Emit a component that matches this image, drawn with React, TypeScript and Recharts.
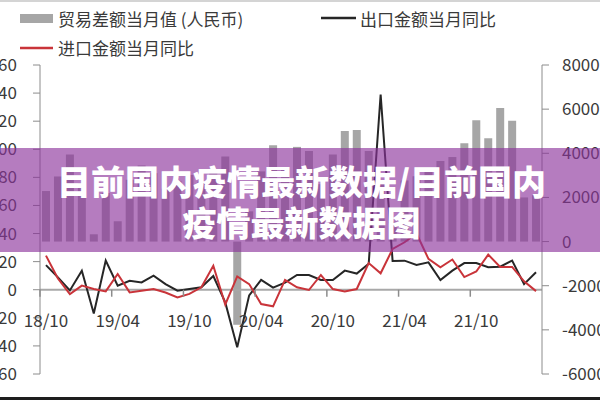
import { ComposedChart, Bar, Line, XAxis, YAxis, ReferenceLine } from "recharts";

const months = [
  "18/10", "18/11", "18/12", "19/01", "19/02", "19/03", "19/04", "19/05", "19/06", "19/07", "19/08", "19/09",
  "19/10", "19/11", "19/12", "20/01", "20/02", "20/03", "20/04", "20/05", "20/06", "20/07", "20/08", "20/09",
  "20/10", "20/11", "20/12", "21/01", "21/02", "21/03", "21/04", "21/05", "21/06", "21/07", "21/08", "21/09",
  "21/10", "21/11", "21/12", "22/01", "22/02", "22/03",
];

// 贸易差额当月值（人民币，亿元）
const balance = [
  2290, 2950, 3950, 2650, 330, 2200, 920, 2800, 3450, 3100, 2400, 2750,
  3020, 2710, 3290, 3860, -3770, 1370, 3180, 4360, 3300, 4290, 4100, 2600,
  3950, 5010, 5060, 4100, 2600, 900, 2770, 2960, 3330, 3650, 3830, 4450,
  5500, 4680, 6050, 5470, 2000, 2100,
];

// 出口金额当月同比 (%)
const exportYoy = [
  17.5, 8.8, -0.5, 13.6, -16.9, 20.7, 2.9, 6.4, 5.2, 10, 4, -0.7,
  0.5, 1.7, 9.8, -9, -41, -4, 7, 1.5, 5, 10.5, 10.5, 6.9,
  6.9, 13.6, 11.5, 18.5, 139, 20.5, 20.7, 17.6, 19.5, 6.9, 13.6, 19,
  19, 16, 16.4, 20.7, 4, 12.4,
];

// 进口金额当月同比 (%)
const importYoy = [
  24.3, 8, -3.1, 2.9, 0.5, -1.2, 11.2, -1.9, -0.7, 0.5, -2, -5.5,
  -3, 1.7, 17.1, -10.5, 9.5, 4, -10.2, -11.8, 7, 1.7, -0.2, 10.5,
  0.5, -1.2, 0.5, 19, 11.7, 29, 33.8, 40, 22, 16, 21.5, 9,
  13, 25, 16.2, 16.2, 6, -1,
];

const leftTicks = [-60, -40, -20, 0, 20, 40, 60, 80, 100, 120, 140, 160];
const rightTicks = [-6000, -4000, -2000, 0, 2000, 4000, 6000, 8000];

const data = months.map((m, i) => ({
  month: m,
  balance: balance[i],
  exp: exportYoy[i],
  imp: importYoy[i],
}));

const W = 600;
const H = 400;
const TOP = 65;
const X_AXIS_H = 26;
const LEFT_W = 40;
const RIGHT_W = 58;
const PLOT_H = H - TOP - X_AXIS_H;
const LEFT_MIN = -60;
const LEFT_MAX = 160;
// the category axis sits on the zero of the left axis
const zeroY = TOP + (PLOT_H * (LEFT_MAX - 0)) / (LEFT_MAX - LEFT_MIN);
const bandW = (W - LEFT_W - RIGHT_W) / months.length;

const FONT = '"Noto Sans CJK SC", "Noto Sans", sans-serif';
const AXIS = "#8c8c8c";

function MonthTick(props: any) {
  const { x, payload } = props;
  return (
    <g>
      <line x1={x - bandW / 2} x2={x - bandW / 2} y1={zeroY} y2={zeroY + 7} stroke={AXIS} strokeWidth={1.5} />
      <text
        x={x}
        y={zeroY + 30}
        textAnchor="middle"
        dominantBaseline="central"
        fontSize={17}
        fontFamily={FONT}
        fill="#3a3a3a"
      >
        {payload.value}
      </text>
    </g>
  );
}

function Legend() {
  const txt = { fontSize: 17, fontFamily: FONT, fill: "#3a3a3a" };
  return (
    <svg width={W} height={60} style={{ position: "absolute", left: 0, top: 0 }}>
      <rect x={20} y={14} width={33} height={9} fill="#a6a6a6" />
      <text x={58} y={18} dominantBaseline="central" {...txt}>贸易差额当月值 (人民币)</text>
      <line x1={321} x2={356} y1={18} y2={18} stroke="#262626" strokeWidth={2.5} />
      <text x={360} y={18} dominantBaseline="central" {...txt}>出口金额当月同比</text>
      <line x1={20} x2={53} y1={48} y2={48} stroke="#c9343a" strokeWidth={2.5} />
      <text x={58} y={47} dominantBaseline="central" {...txt}>进口金额当月同比</text>
    </svg>
  );
}

export default function App() {
  return (
    <div style={{ position: "relative", width: W, height: H, background: "#fff", overflow: "hidden" }}>
      <style>{"body{margin:0}"}</style>
      <ComposedChart
        width={W}
        height={H}
        data={data}
        margin={{ top: TOP, right: 0, bottom: 0, left: 0 }}
      >
        <XAxis
          dataKey="month"
          interval={5}
          axisLine={false}
          tickLine={false}
          height={X_AXIS_H}
          tick={<MonthTick />}
        />
        <YAxis
          yAxisId="left"
          domain={[LEFT_MIN, LEFT_MAX]}
          ticks={leftTicks}
          interval={0}
          width={LEFT_W}
          tickSize={7}
          tickMargin={16}
          stroke={AXIS}
          tick={{ fontSize: 17, fill: "#3a3a3a", fontFamily: FONT }}
        />
        <YAxis
          yAxisId="right"
          orientation="right"
          domain={[-6000, 8000]}
          ticks={rightTicks}
          interval={0}
          width={RIGHT_W}
          tickSize={7}
          tickMargin={13}
          stroke={AXIS}
          tick={{ fontSize: 17, fill: "#3a3a3a", fontFamily: FONT }}
        />
        <ReferenceLine yAxisId="left" y={0} stroke="#a8a8a8" strokeWidth={2} />
        <Bar yAxisId="right" dataKey="balance" fill="#a6a6a6" barSize={8} isAnimationActive={false} />
        <Line
          yAxisId="left"
          type="linear"
          dataKey="exp"
          stroke="#262626"
          strokeWidth={2}
          dot={false}
          isAnimationActive={false}
        />
        <Line
          yAxisId="left"
          type="linear"
          dataKey="imp"
          stroke="#c9343a"
          strokeWidth={2}
          dot={false}
          isAnimationActive={false}
        />
      </ComposedChart>
      <Legend />
      <div
        style={{
          position: "absolute",
          left: 0,
          top: 148,
          width: W,
          height: 104,
          background: "rgba(140, 50, 155, 0.64)",
          color: "#fff",
          fontFamily: FONT,
          fontWeight: 900,
          fontSize: 34,
          lineHeight: "41px",
          textAlign: "center",
          paddingTop: 12,
          paddingLeft: 3,
          boxSizing: "border-box",
        }}
      >
        <div>目前国内疫情最新数据/目前国内</div>
        <div>疫情最新数据图</div>
      </div>
      <div style={{ position: "absolute", left: 0, top: 0, width: W, height: 2, background: "#d4d4d4" }} />
      <div style={{ position: "absolute", left: 0, bottom: 0, width: W, height: 3, background: "#1e1e1e" }} />
    </div>
  );
}
